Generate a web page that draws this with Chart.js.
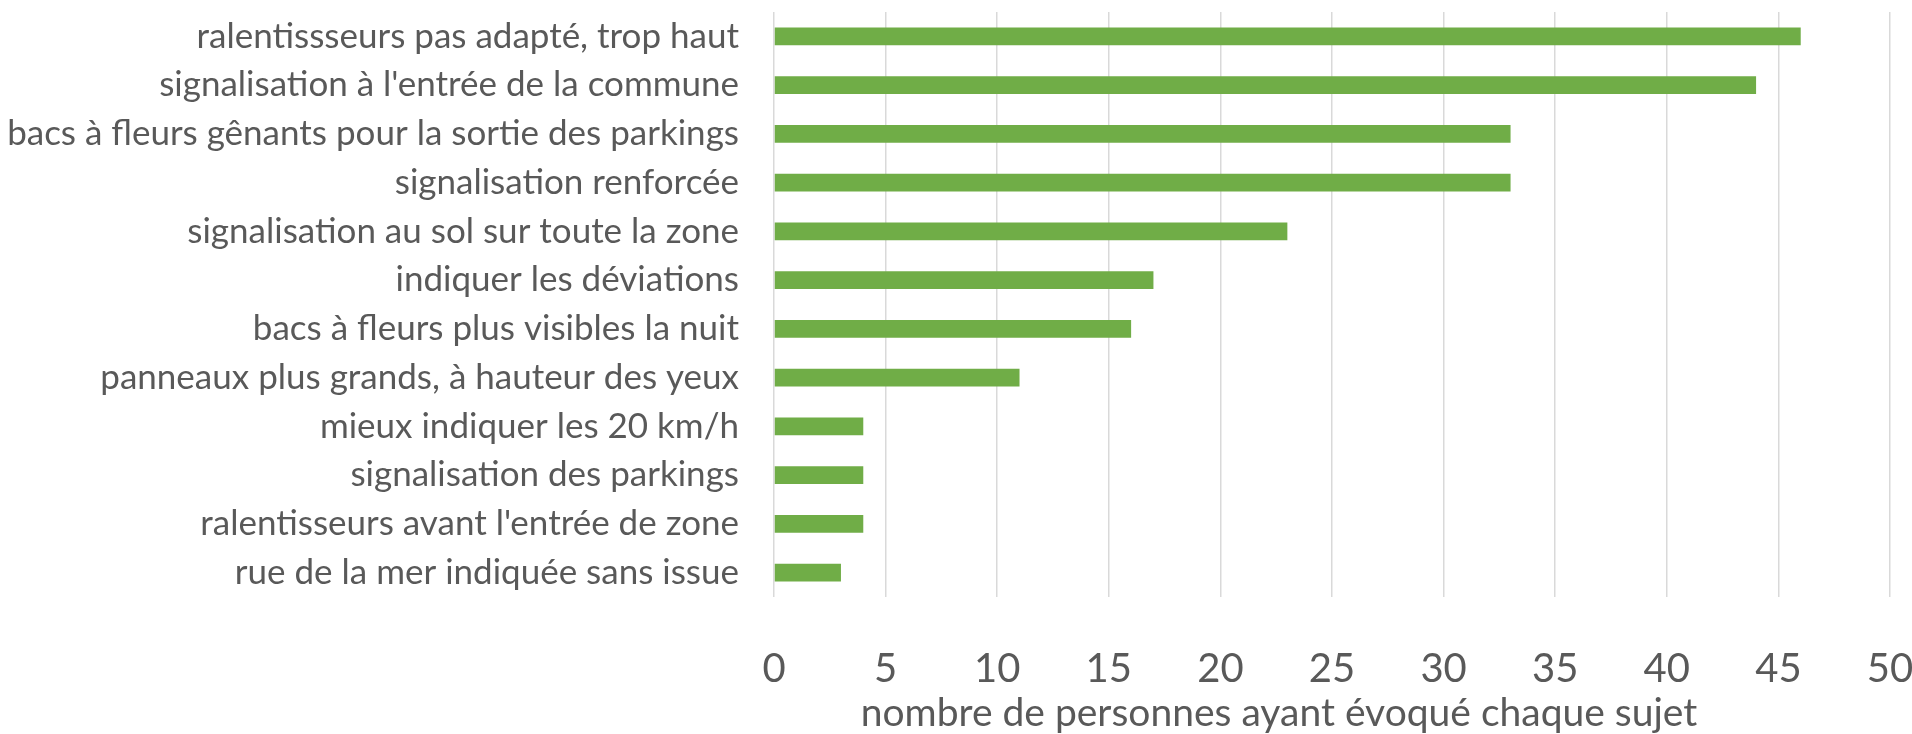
<!DOCTYPE html>
<html>
<head>
<meta charset="utf-8">
<script src="https://cdn.jsdelivr.net/npm/chart.js@4/dist/chart.umd.min.js"></script>
<style>
  html, body { margin: 0; padding: 0; background: #fff; }
  #wrap { width: 1912px; height: 734px; }
</style>
</head>
<body>
<div id="wrap"><canvas id="suggestionsChart"></canvas></div>
<script>
// suggestions, sorted as in the chart (top to bottom)
const categories = [
    "ralentissseurs pas adapté, trop haut",
    "signalisation à l'entrée de la commune",
    "bacs à fleurs gênants pour la sortie des parkings",
    "signalisation renforcée",
    "signalisation au sol sur toute la zone",
    "indiquer les déviations",
    "bacs à fleurs plus visibles la nuit",
    "panneaux plus grands, à hauteur des yeux",
    "mieux indiquer les 20 km/h",
    "signalisation des parkings",
    "ralentisseurs avant l'entrée de zone",
    "rue de la mer indiquée sans issue"
];
const counts = [46, 44, 33, 33, 23, 17, 16, 11, 4, 4, 4, 3];
const xTicks = [0, 5, 10, 15, 20, 25, 30, 35, 40, 45, 50];
const xTitle = "nombre de personnes ayant évoqué chaque sujet";

const fontFamily = "Lato, 'Open Sans', sans-serif";
const textColor = '#595959';

// axis title sits a bit left of the plot centre, like in the original
const axisTitlePlugin = {
    id: 'axisTitle',
    afterDraw: function (chart) {
        const c = chart.ctx;
        const area = chart.chartArea;
        c.save();
        c.font = '39px ' + fontFamily;
        c.fillStyle = textColor;
        c.textAlign = 'center';
        c.textBaseline = 'middle';
        c.fillText(xTitle, (area.left + area.right) / 2 - 53, chart.height - 21);
        c.restore();
    }
};

const ctx = document.getElementById('suggestionsChart').getContext('2d');
new Chart(ctx, {
    type: 'bar',
    data: {
        labels: categories,
        datasets: [{
            label: 'sujets',
            data: counts,
            backgroundColor: '#70AD47',
            borderWidth: 0,
            barPercentage: 0.36,
            categoryPercentage: 1.0
        }]
    },
    plugins: [axisTitlePlugin],
    options: {
        indexAxis: 'y',
        responsive: true,
        maintainAspectRatio: false,
        animation: false,
        layout: { padding: { top: 12, right: 22, left: 0, bottom: 0 } },
        plugins: {
            legend: { display: false },
            tooltip: { enabled: false }
        },
        scales: {
            x: {
                min: 0,
                max: 50,
                afterBuildTicks: function (axis) {
                    axis.ticks = xTicks.map(v => ({ value: v }));
                },
                afterFit: function (axis) {
                    axis.height = 137;
                    axis.paddingLeft = 0;
                    axis.paddingRight = 0;
                },
                grid: { color: '#D9D9D9', lineWidth: 1.5, drawTicks: false },
                border: { display: false },
                ticks: {
                    color: textColor,
                    padding: 48,
                    font: { family: fontFamily, size: 40 }
                }
            },
            y: {
                afterFit: function (axis) {
                    axis.width = 774;
                    axis.paddingTop = 0;
                    axis.paddingBottom = 0;
                },
                grid: { display: false, drawTicks: false },
                border: { display: false },
                ticks: {
                    color: textColor,
                    padding: 35,
                    autoSkip: false,
                    font: { family: fontFamily, size: 35 }
                }
            }
        }
    }
});
</script>
</body>
</html>
